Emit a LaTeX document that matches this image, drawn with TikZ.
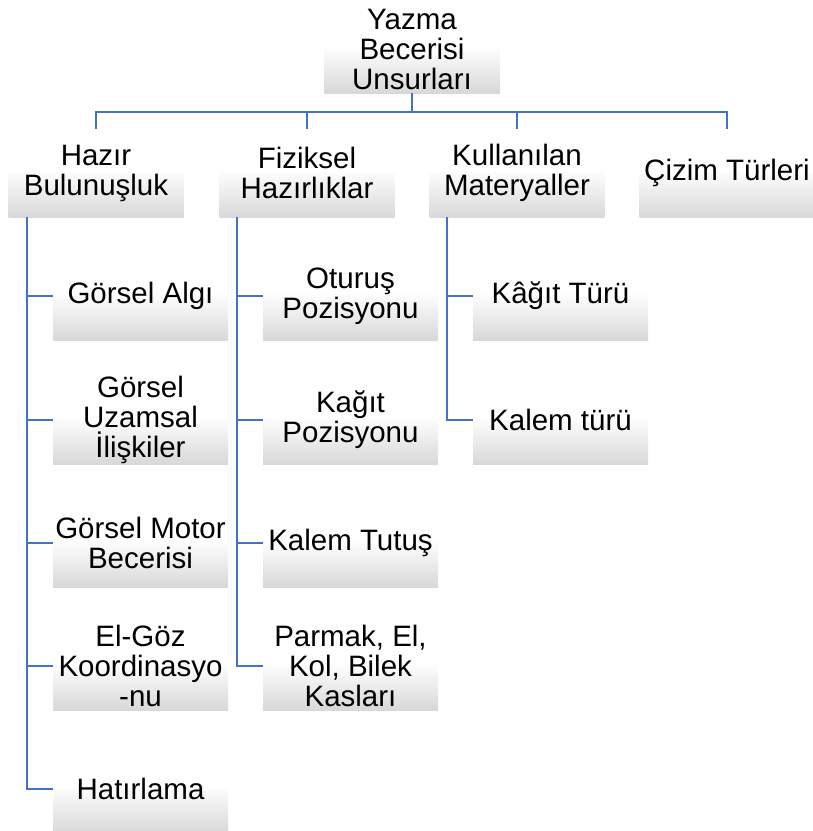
\documentclass[tikz,border=0pt]{standalone}
\usepackage{fontspec}
\setmainfont{Liberation Sans}
\definecolor{linkblue}{HTML}{4472C4}
\definecolor{boxgray}{HTML}{D8D8D8}
\pgfdeclareverticalshading{boxshade}{100bp}{color(0bp)=(boxgray); color(25bp)=(boxgray); color(52bp)=(white); color(100bp)=(white)}
\begin{document}
\begin{tikzpicture}[x=1pt,y=-1pt,
  item/.style={minimum width=175pt, minimum height=88pt, inner sep=0pt, align=center,
    shading=boxshade, font=\fontsize{29.5}{30}\selectfont},
  link/.style={draw=linkblue, line width=1.5pt}]
\useasboundingbox (0,0) rectangle (813,831);
% root
\node[item] (root) at (412,49) {Yazma\\Becerisi\\Unsurları};
% level 2
\node[item] (hb) at (96,173) {Hazır\\Bulunuşluk};
\node[item] (fh) at (307,173) {Fiziksel\\Hazırlıklar};
\node[item] (km) at (517,173) {Kullanılan\\Materyaller};
\node[item] (ct) at (727,173) {Çizim Türleri};
% Hazır children
\node[item] (ga) at (140.5,296) {Görsel Algı};
\node[item] (gu) at (140.5,420) {Görsel\\Uzamsal\\İlişkiler};
\node[item] (gm) at (140.5,543) {Görsel Motor\\Becerisi};
\node[item] (eg) at (140.5,666) {El-Göz\\Koordinasyo\\-nu};
\node[item] (ha) at (140.5,789) {Hatırlama};
% Fiziksel children
\node[item] (op) at (350.5,296) {Oturuş\\Pozisyonu};
\node[item] (kp) at (350.5,420) {Kağıt\\Pozisyonu};
\node[item] (kt) at (350.5,543) {Kalem Tutuş};
\node[item] (pe) at (350.5,666) {Parmak, El,\\Kol, Bilek\\Kasları};
% Kullanılan children
\node[item] (kg) at (560.5,296) {Kâğıt Türü};
\node[item] (kl) at (560.5,420) {Kalem türü};
% root connectors
\foreach \c in {hb,fh,km,ct}
  \draw[link] (root.south) -- ++(0,19) -| (\c.north);
% child connectors
\path ([xshift=-26pt]ga.west) coordinate (hx);
\path ([xshift=-26pt]op.west) coordinate (fx);
\path ([xshift=-26pt]kg.west) coordinate (kx);
\foreach \c in {ga,gu,gm,eg,ha}
  \draw[link] (hx |- hb.south) |- (\c.west);
\foreach \c in {op,kp,kt,pe}
  \draw[link] (fx |- fh.south) |- (\c.west);
\foreach \c in {kg,kl}
  \draw[link] (kx |- km.south) |- (\c.west);
\end{tikzpicture}
\end{document}
